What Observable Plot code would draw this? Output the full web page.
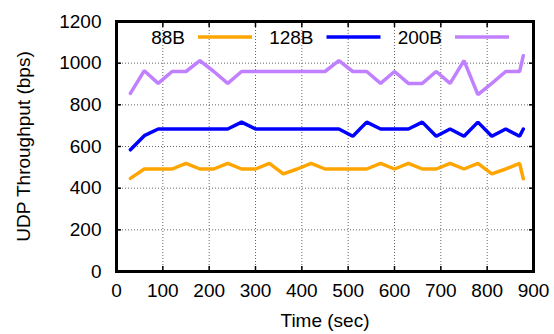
<!DOCTYPE html>
<html><head><meta charset="utf-8">
<script src="https://cdn.jsdelivr.net/npm/d3@7"></script>
<script src="https://cdn.jsdelivr.net/npm/@observablehq/plot@0.6"></script>
<style>
body{margin:0;background:#fff;}
#chart{width:554px;height:334px;}
</style></head><body><div id="chart"></div>
<script>
const time = [30,60,90,120,150,180,210,240,270,300,330,360,390,420,450,480,510,540,570,600,630,660,690,720,750,780,810,840,870,878];
const s88  = [447,492,492,492,519,492,492,519,492,492,519,469,492,519,492,492,492,492,519,492,519,492,492,519,492,519,469,492,519,445];
const s128 = [584,652,684,684,684,684,684,684,717,684,684,684,684,684,684,684,649,717,684,684,684,717,649,684,649,717,649,684,649,684];
const s200 = [855,964,903,960,960,1012,960,903,960,960,960,960,960,960,960,1012,960,960,903,960,903,903,960,903,1012,849,903,960,960,1036];
const seriesNames = ["88B","128B","200B"];
const seriesColors = ["#ffa500","#0000ff","#c080ff"];
const xTicks = [0,100,200,300,400,500,600,700,800,900];
const yTicks = [0,200,400,600,800,1000,1200];

const rows = [];
[s88,s128,s200].forEach((vals,i)=>vals.forEach((v,j)=>rows.push({t:time[j], v, s:seriesNames[i]})));

const W = 554, H = 334, mL = 116, mR = 21, mT = 21, mB = 63;
const font = "'Liberation Sans', Arial, sans-serif";
const gridStyle = {stroke:"#666", strokeOpacity:1, strokeWidth:1, strokeDasharray:"1,2"};
const fmt = d3.format("d");

const plot = Plot.plot({
  width: W, height: H, marginLeft: mL, marginRight: mR, marginTop: mT, marginBottom: mB,
  style: {fontFamily: font, fontSize: "19px", background: "#fff", color: "#000"},
  x: {domain: [0, 900]},
  y: {domain: [0, 1200]},
  color: {domain: seriesNames, range: seriesColors},
  marks: [
    Plot.gridX(xTicks.slice(1, -1), gridStyle),
    Plot.gridY(yTicks.slice(1, -1), gridStyle),
    Plot.line(rows, {x: "t", y: "v", z: "s", stroke: "s", strokeWidth: 3.5, strokeLinejoin: "miter"}),
    Plot.axisX(xTicks, {anchor: "bottom", tickSize: 0, tickPadding: 12, tickFormat: fmt, label: "Time (sec)", labelAnchor: "center", labelArrow: "none", labelOffset: 55}),
    Plot.axisX(xTicks, {anchor: "bottom", tickSize: -5, fill: "none", label: null, strokeWidth: 1.5}),
    Plot.axisX(xTicks, {anchor: "top", tickSize: -5, fill: "none", label: null, strokeWidth: 1.5}),
    Plot.axisY(yTicks, {anchor: "left", tickSize: 0, tickPadding: 15, tickFormat: fmt, label: "UDP Throughput (bps)", labelAnchor: "center", labelArrow: "none", labelOffset: 100}),
    Plot.axisY(yTicks, {anchor: "left", tickSize: -5, fill: "none", label: null, strokeWidth: 1.5}),
    Plot.axisY(yTicks, {anchor: "right", tickSize: -5, fill: "none", label: null, strokeWidth: 1.5}),
    Plot.frame({stroke: "#000", strokeWidth: 3})
  ]
});
document.getElementById("chart").appendChild(plot);

// legend (gnuplot-style key: label then line sample), inside the top of the frame
const svg = d3.select(plot);
const keyY = 37, sampleLen = 54, gap = 13, entryStep = 128.5;
const lastSampleEnd = W - mR - 24;
const g = svg.append("g").attr("font-family", font).attr("font-size", 19);
seriesNames.forEach((name, i) => {
  const sampleEnd = lastSampleEnd - (seriesNames.length - 1 - i) * entryStep;
  const sampleStart = sampleEnd - sampleLen;
  g.append("text").attr("x", sampleStart - gap).attr("y", keyY).attr("dy", "0.35em")
    .attr("text-anchor", "end").attr("fill", "#000").text(name);
  g.append("line").attr("x1", sampleStart).attr("x2", sampleEnd).attr("y1", keyY).attr("y2", keyY)
    .attr("stroke", seriesColors[i]).attr("stroke-width", 3.5);
});
</script></body></html>
